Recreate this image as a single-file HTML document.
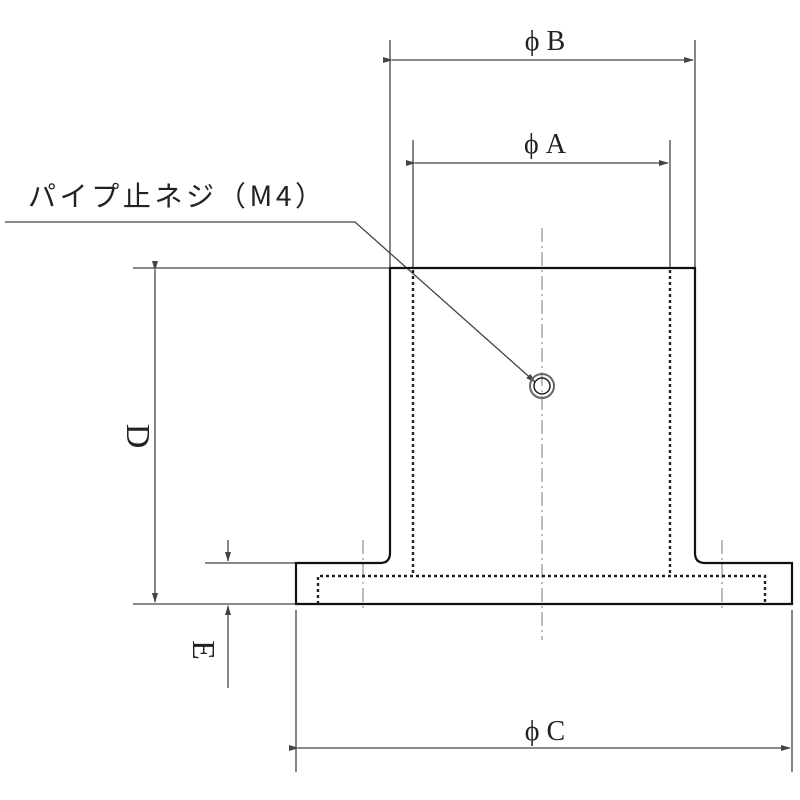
<!DOCTYPE html>
<html><head><style>body{margin:0;background:#fff}svg{display:block}</style></head><body>
<svg width="800" height="800" viewBox="0 0 800 800" xmlns="http://www.w3.org/2000/svg">
<defs><marker id="a" markerWidth="10" markerHeight="6" refX="9" refY="3" orient="auto" markerUnits="userSpaceOnUse"><path d="M0,0 L10,3 L0,6z" fill="#444"/></marker></defs>
<g stroke="#444" stroke-width="1.3" fill="none">
<line x1="390" y1="40" x2="390" y2="268"/><line x1="695" y1="40" x2="695" y2="268"/>
<line x1="413" y1="140" x2="413" y2="268"/><line x1="670" y1="140" x2="670" y2="268"/>
<line x1="392" y1="60" x2="693" y2="60" marker-start="url(#a)" marker-end="url(#a)"/>
<line x1="415" y1="163" x2="668" y2="163" marker-start="url(#a)" marker-end="url(#a)"/>
<line x1="133" y1="268" x2="390" y2="268"/><line x1="133" y1="604" x2="296" y2="604"/>
<line x1="155" y1="270" x2="155" y2="602" marker-start="url(#a)" marker-end="url(#a)"/>
<line x1="205" y1="563" x2="296" y2="563"/>
<line x1="228" y1="540" x2="228" y2="561" marker-end="url(#a)"/>
<line x1="228" y1="688" x2="228" y2="606" marker-end="url(#a)"/>
<line x1="296" y1="610" x2="296" y2="772"/><line x1="792" y1="610" x2="792" y2="772"/>
<line x1="298" y1="748" x2="790" y2="748" marker-start="url(#a)" marker-end="url(#a)"/>
<polyline points="5,222 355,222 535,382" marker-end="url(#a)"/>
</g>
<g stroke="#777" stroke-width="1" stroke-dasharray="14,4,2,4" fill="none">
<line x1="542" y1="228" x2="542" y2="640"/>
<line x1="363" y1="540" x2="363" y2="612"/><line x1="722" y1="540" x2="722" y2="612"/>
</g>
<g stroke="#111" stroke-width="2.2" fill="none">
<path d="M390,268 L695,268 L695,553 Q695,563 705,563 L792,563 L792,604 L296,604 L296,563 L380,563 Q390,563 390,553 Z"/>
</g>
<g stroke="#222" stroke-width="2.4" stroke-dasharray="3,3" fill="none">
<line x1="413" y1="270" x2="413" y2="576"/><line x1="670" y1="270" x2="670" y2="576"/>
<polyline points="318,604 318,576 765,576 765,604"/>
</g>
<circle cx="542" cy="386" r="12" stroke="#666" stroke-width="2" fill="none"/>
<circle cx="542" cy="386" r="8" stroke="#222" stroke-width="1.5" fill="none"/>
<g font-family="Liberation Serif, Noto Serif CJK SC, serif" fill="#222" font-size="28">
<text x="545" y="50" text-anchor="middle">ϕ B</text>
<text x="545" y="153" text-anchor="middle">ϕ A</text>
<text x="545" y="740" text-anchor="middle">ϕ C</text>
<text x="28" y="206" font-family="Noto Sans CJK JP, sans-serif" font-size="28" textLength="295" lengthAdjust="spacing">パイプ止ネジ（M4）</text>
<text transform="translate(127,436) rotate(90)" text-anchor="middle" font-size="34">D</text>
<text transform="translate(193,650) rotate(90)" text-anchor="middle" font-size="32">E</text>
</g>
</svg>
</body></html>
